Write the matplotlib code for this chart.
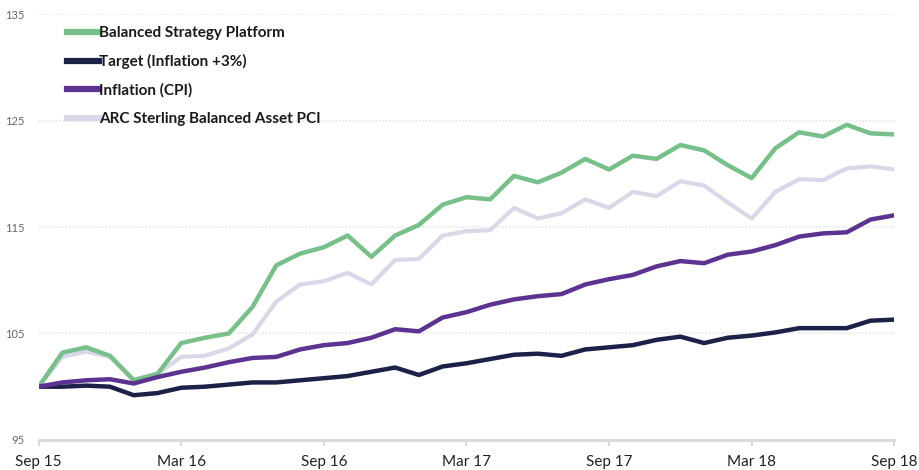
import numpy as np
import matplotlib.pyplot as plt

plt.rcParams['font.family'] = ['Lato', 'DejaVu Sans']

# monthly index values, Sep 15 .. Sep 18
months = list(range(37))
tick_pos = [0, 6, 12, 18, 24, 30, 36]
tick_labels = ['Sep 15', 'Mar 16', 'Sep 16', 'Mar 17', 'Sep 17', 'Mar 18', 'Sep 18']

balanced = [100.0, 103.2, 103.7, 102.9, 100.6, 101.2, 104.1, 104.6, 105.0, 107.5,
            111.4, 112.5, 113.1, 114.2, 112.2, 114.2, 115.2, 117.1, 117.8, 117.6,
            119.8, 119.2, 120.1, 121.4, 120.4, 121.7, 121.4, 122.7, 122.2, 120.8,
            119.6, 122.4, 123.9, 123.5, 124.6, 123.8, 123.7]
target = [100.0, 100.0, 100.1, 100.0, 99.2, 99.4, 99.9, 100.0, 100.2, 100.4,
          100.4, 100.6, 100.8, 101.0, 101.4, 101.8, 101.1, 101.9, 102.2, 102.6,
          103.0, 103.1, 102.9, 103.5, 103.7, 103.9, 104.4, 104.7, 104.1, 104.6,
          104.8, 105.1, 105.5, 105.5, 105.5, 106.2, 106.3]
cpi = [100.0, 100.4, 100.6, 100.7, 100.3, 100.9, 101.4, 101.8, 102.3, 102.7,
       102.8, 103.5, 103.9, 104.1, 104.6, 105.4, 105.2, 106.5, 107.0, 107.7,
       108.2, 108.5, 108.7, 109.6, 110.1, 110.5, 111.3, 111.8, 111.6, 112.4,
       112.7, 113.3, 114.1, 114.4, 114.5, 115.7, 116.1]
arc = [100.0, 102.8, 103.3, 102.8, 100.7, 101.2, 102.8, 102.9, 103.6, 104.9,
       108.0, 109.6, 109.9, 110.7, 109.6, 111.9, 112.0, 114.2, 114.6, 114.7,
       116.8, 115.8, 116.3, 117.6, 116.8, 118.3, 117.9, 119.3, 118.9, 117.3,
       115.8, 118.3, 119.5, 119.4, 120.5, 120.7, 120.4]

green = '#77c08a'
navy = '#1c2147'
purple = '#5c3391'
lilac = '#d9d7e8'

fig = plt.figure(figsize=(9.2, 4.7), dpi=100)
ax = fig.add_axes([0.042, 0.064, 0.930, 0.906])

ax.plot(months, arc, color=lilac, lw=3.0, solid_joinstyle='round', solid_capstyle='round', zorder=2)
ax.plot(months, balanced, color=green, lw=3.2, solid_joinstyle='round', solid_capstyle='round', zorder=3)
ax.plot(months, target, color=navy, lw=3.2, solid_joinstyle='round', solid_capstyle='round', zorder=4)
ax.plot(months, cpi, color=purple, lw=3.2, solid_joinstyle='round', solid_capstyle='round', zorder=5)

ax.set_xlim(0, 36)
ax.set_ylim(95, 135)
ax.set_yticks([95, 105, 115, 125, 135])
ax.set_xticks(tick_pos)
ax.set_xticklabels(tick_labels)

for y in [105, 115, 125, 135]:
    ax.axhline(y, color='#e6e6e6', lw=1.2, ls=(0, (1, 1)), zorder=1)

for s in ['top', 'right', 'left']:
    ax.spines[s].set_visible(False)
ax.spines['bottom'].set_color('#d9d9d9')
ax.spines['bottom'].set_linewidth(2)
ax.tick_params(axis='y', length=0, pad=10, labelsize=8, labelcolor='#666666')
ax.tick_params(axis='x', length=4, width=1.5, color='#d9d9d9', pad=7,
               labelsize=11, labelcolor='#222222')

# legend drawn with thick handles
handles = [plt.Line2D([], [], color=green, lw=4.5),
           plt.Line2D([], [], color=navy, lw=4.5),
           plt.Line2D([], [], color=purple, lw=4.5),
           plt.Line2D([], [], color=lilac, lw=4.5)]
names = ['Balanced Strategy Platform', 'Target (Inflation +3%)',
         'Inflation (CPI)', 'ARC Sterling Balanced Asset PCI']
leg = ax.legend(handles, names, loc='upper left', bbox_to_anchor=(0.017, 1.004),
                frameon=False, handlelength=2.1, handletextpad=0.0,
                labelspacing=0.92, prop={'weight': 'bold', 'size': 11})
for t in leg.get_texts():
    t.set_color('#1a1a1a')

fig.savefig('out.png', dpi=100)
